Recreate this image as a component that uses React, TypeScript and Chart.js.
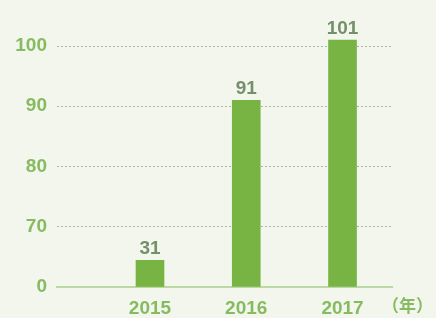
import React, { useEffect, useRef } from 'react';
import { Chart, registerables } from 'chart.js';

Chart.register(...registerables);

const years = [2015, 2016, 2017];
const values = [31, 91, 101];
const yTickValues = [0, 70, 80, 90, 100];
const yearUnit = '（年）';

// Broken axis: every tick value sits one equal step above the previous one.
function toAxis(v: number): number {
  for (let i = 1; i < yTickValues.length; i++) {
    const a = yTickValues[i - 1];
    const b = yTickValues[i];
    if (v <= b || i === yTickValues.length - 1) {
      return i - 1 + (v - a) / (b - a);
    }
  }
  return 0;
}

const BG = '#f2f6ec';
const BAR = '#78b444';
const TICK_GREEN = '#86bb61';
const VALUE_GRAY = '#74906a';
const GRID = '#a9b89e';
const AXIS = '#bcd9a4';
const FONT = '"Liberation Sans", Arial, sans-serif';

const labelsPlugin = {
  id: 'valueLabels',
  afterDatasetsDraw(chart: any) {
    const ctx = chart.ctx;
    const meta = chart.getDatasetMeta(0);
    ctx.save();
    ctx.font = `bold 19px ${FONT}`;
    ctx.fillStyle = VALUE_GRAY;
    ctx.textAlign = 'center';
    ctx.textBaseline = 'alphabetic';
    meta.data.forEach((bar: any, i: number) => {
      ctx.fillText(String(values[i]), bar.x, bar.y - 6);
    });
    ctx.font = `bold 17px "Noto Sans CJK SC", sans-serif`;
    ctx.fillStyle = TICK_GREEN;
    ctx.textAlign = 'left';
    ctx.textBaseline = 'middle';
    ctx.fillText(yearUnit, chart.chartArea.right - 10, 306);
    ctx.restore();
  },
};

export default function App() {
  const ref = useRef<HTMLCanvasElement | null>(null);

  useEffect(() => {
    if (!ref.current) return;
    const chart = new Chart(ref.current, {
      type: 'bar',
      data: {
        datasets: [
          {
            data: years.map((y, i) => ({ x: y, y: toAxis(values[i]) })),
            backgroundColor: BAR,
            barThickness: 28,
          },
        ],
      },
      options: {
        responsive: false,
        animation: false,
        events: [],
        layout: { padding: { top: 31, right: 44, left: 0, bottom: 0 } },
        plugins: { legend: { display: false }, tooltip: { enabled: false } },
        scales: {
          x: {
            type: 'linear',
            offset: false,
            min: 2014.034,
            max: 2017.514,
            grid: { display: false, drawTicks: false },
            border: { display: true, color: AXIS, width: 2 },
            afterBuildTicks: (s: any) => {
              s.ticks = years.map((v) => ({ value: v }));
            },
            afterFit: (s: any) => {
              s.height = 31;
            },
            ticks: {
              color: TICK_GREEN,
              font: { family: FONT, size: 19, weight: 'bold' },
              padding: 10,
              autoSkip: false,
              maxRotation: 0,
              callback: (v: any) => String(v),
            },
          },
          y: {
            type: 'linear',
            min: 0,
            max: 4.249,
            afterBuildTicks: (s: any) => {
              s.ticks = yTickValues.map((_, i) => ({ value: i }));
            },
            afterFit: (s: any) => {
              s.width = 57;
            },
            grid: {
              drawTicks: false,
              lineWidth: 1,
              color: (c: any) => (c.tick && c.tick.value === 0 ? 'rgba(0,0,0,0)' : GRID),
            },
            border: { display: false, dash: [2, 2] },
            ticks: {
              color: TICK_GREEN,
              font: { family: FONT, size: 19, weight: 'bold' },
              padding: 10,
              callback: (v: any) => String(yTickValues[Math.round(Number(v))]),
            },
          },
        },
      },
      plugins: [labelsPlugin],
    });
    return () => chart.destroy();
  }, []);

  return (
    <div style={{ position: 'fixed', left: 0, top: 0, width: 436, height: 318, background: BG }}>
      <canvas ref={ref} width={436} height={318} />
    </div>
  );
}
